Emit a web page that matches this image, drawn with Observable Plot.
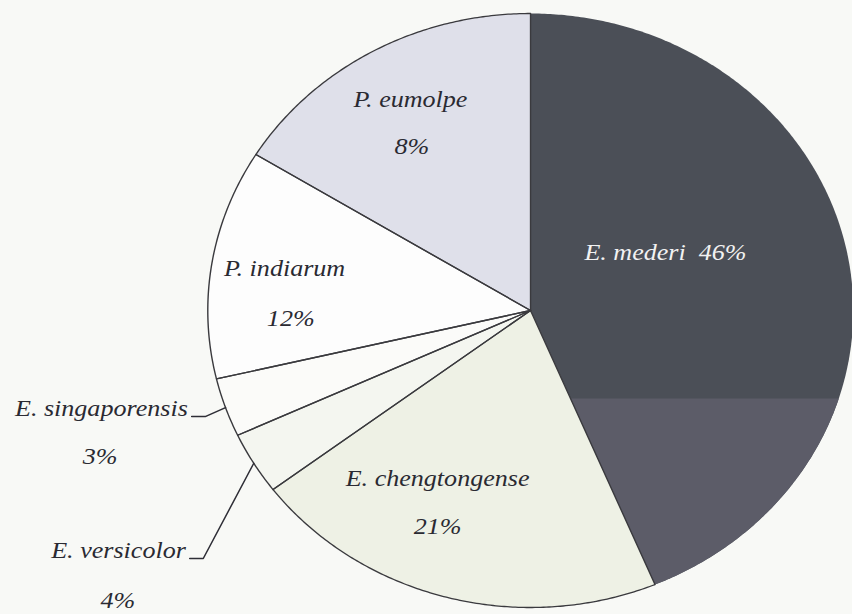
<!DOCTYPE html>
<html><head><meta charset="utf-8">
<script src="https://cdn.jsdelivr.net/npm/d3@7"></script>
<script src="https://cdn.jsdelivr.net/npm/@observablehq/plot@0.6"></script>
<style>
html,body{margin:0;padding:0;background:#f8f9f6;overflow:hidden;}
#chart svg{display:block;transform:scaleX(1.0867);transform-origin:0 0;background:#f8f9f6;}
</style></head><body><div id="chart"></div>
<script>
// ---- data (clockwise from 12 o'clock) ----
const species = ["E. mederi", "E. chengtongense", "E. versicolor", "E. singaporensis", "P. indiarum", "P. eumolpe"];
const sliceShares = [43.7, 21.0, 3.4, 3.2, 12.5, 16.2];          // measured slice sizes (% of circle)
const pctLabels = ["46%", "21%", "4%", "3%", "12%", "8%"];        // printed labels
const sliceFills = ["#4b4f57", "#eef1e5", "#f4f6f0", "#fbfbf9", "#fdfdfd", "#dfe0ea"];
// label anchors, in pie-radius units relative to the centre
const nameXY = [[0.418, 0.195], [-0.288, -0.566], [-1.068, -0.808], [-1.062, -0.330], [-0.762, 0.141], [-0.372, 0.710]];
const pctXY  = [null, [-0.288, -0.727], [-1.279, -0.976], [-1.334, -0.492], [-0.743, -0.027], [-0.368, 0.552]];
const nameAnchor = ["middle", "middle", "end", "end", "middle", "middle"];
const withLeader = [false, false, true, true, false, false];

// ---- layout ----
const W = 784, H = 614;               // svg is stretched horizontally by CSS (scan aspect)
const cx = 530 / 1.0867, cy = 310, R = 297;
const xDomain = [-cx / R, (W - cx) / R];
const yDomain = [-(H - cy) / R, cy / R];

// ---- geometry ----
const total = d3.sum(sliceShares);
let acc = 0;
const slices = species.map((name, i) => {
  const a0 = acc / total * 2 * Math.PI;
  acc += sliceShares[i];
  const a1 = acc / total * 2 * Math.PI;
  const pts = [[0, 0]];
  const n = Math.max(4, Math.ceil((a1 - a0) / (Math.PI / 360)));
  for (let k = 0; k <= n; k++) {
    const a = a0 + (a1 - a0) * k / n;
    pts.push([Math.sin(a), Math.cos(a)]);
  }
  pts.push([0, 0]);
  const am = (a0 + a1) / 2;
  return {name, i, pts, fill: sliceFills[i], mid: [Math.sin(am), Math.cos(am)]};
});

// scan artefact: lower part of the dark slice is a little lighter
function clipBelow(poly, yb) {
  const out = [];
  for (let k = 0; k < poly.length; k++) {
    const cur = poly[k], prev = poly[(k + poly.length - 1) % poly.length];
    const ci = cur[1] <= yb, pi = prev[1] <= yb;
    const inter = () => {
      const t = (yb - prev[1]) / (cur[1] - prev[1]);
      return [prev[0] + t * (cur[0] - prev[0]), yb];
    };
    if (ci) { if (!pi) out.push(inter()); out.push(cur); }
    else if (pi) out.push(inter());
  }
  if (out.length) out.push(out[0]);
  return out;
}
const band = clipBelow(slices[0].pts.slice(0, -1), -(398 - cy) / R);

const toRows = pts => pts.map(([x, y]) => ({x, y}));

const marks = [];
for (const s of slices) {
  marks.push(Plot.line(toRows(s.pts), {x: "x", y: "y", fill: s.fill, stroke: "none"}));
}
marks.push(Plot.line(toRows(band), {x: "x", y: "y", fill: "#5c5c68", stroke: "none"}));
for (const s of slices) {
  if (s.i === 0) continue;
  marks.push(Plot.line(toRows(s.pts), {x: "x", y: "y", stroke: "#3a3a3e", strokeWidth: 1.3, strokeLinejoin: "round"}));
}

// leader lines
slices.forEach((s, i) => {
  if (!withLeader[i]) return;
  const [u, v] = nameXY[i];
  const lv = v - 8 / R;
  const pts = [[u + 0.012, lv], [u + 0.054, lv], s.mid];
  marks.push(Plot.line(toRows(pts), {x: "x", y: "y", stroke: "#2e2e36", strokeWidth: 1.4}));
});

// labels
const labelRows = [];
species.forEach((name, i) => {
  const [u, v] = nameXY[i];
  labelRows.push({x: u, y: v, text: i === 0 ? name + "\u00a0 " + pctLabels[i] : name,
                  anchor: nameAnchor[i], color: i === 0 ? "#f2f2f2" : "#2a2a32"});
  if (pctXY[i]) labelRows.push({x: pctXY[i][0], y: pctXY[i][1], text: pctLabels[i], anchor: "middle", color: "#2a2a32"});
});
for (const anchor of ["middle", "end"]) {
  marks.push(Plot.text(labelRows.filter(d => d.anchor === anchor), {
    x: "x", y: "y", text: "text", fill: "color", textAnchor: anchor,
    fontSize: 24, fontStyle: "italic", fontFamily: "Liberation Serif"
  }));
}

const chart = Plot.plot({
  width: W, height: H,
  margin: 0,
  x: {domain: xDomain, axis: null},
  y: {domain: yDomain, axis: null},
  color: {type: "identity"},
  style: {background: "#f8f9f6", overflow: "visible"},
  marks
});
document.getElementById("chart").appendChild(chart);
</script>
</body></html>
